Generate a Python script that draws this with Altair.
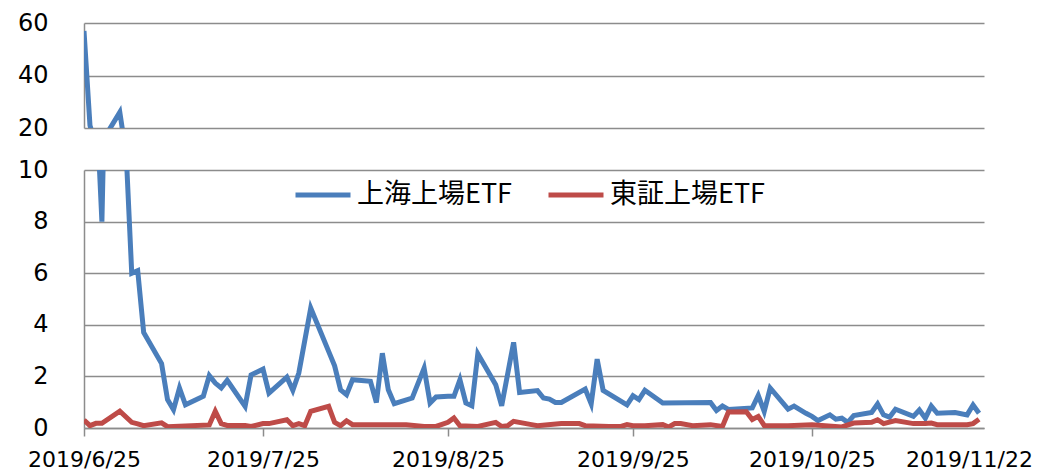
import altair as alt
import pandas as pd

# ---- data ----
sh_dates = [
    "2019/06/25", "2019/06/26", "2019/06/27", "2019/06/28", "2019/06/29", "2019/07/01",
    "2019/07/02", "2019/07/03", "2019/07/04", "2019/07/05", "2019/07/08", "2019/07/09",
    "2019/07/10", "2019/07/11", "2019/07/12", "2019/07/15", "2019/07/16", "2019/07/17",
    "2019/07/18", "2019/07/19", "2019/07/22", "2019/07/23", "2019/07/25", "2019/07/26",
    "2019/07/29", "2019/07/30", "2019/07/31", "2019/08/02", "2019/08/05", "2019/08/06",
    "2019/08/07", "2019/08/08", "2019/08/09", "2019/08/12", "2019/08/13", "2019/08/14",
    "2019/08/15", "2019/08/16", "2019/08/19", "2019/08/21", "2019/08/22", "2019/08/23",
    "2019/08/25", "2019/08/26", "2019/08/27", "2019/08/28", "2019/08/29", "2019/08/30",
    "2019/09/02", "2019/09/03", "2019/09/05", "2019/09/06", "2019/09/09", "2019/09/10",
    "2019/09/11", "2019/09/12", "2019/09/13", "2019/09/17", "2019/09/18", "2019/09/19",
    "2019/09/20", "2019/09/24", "2019/09/25", "2019/09/26", "2019/09/27", "2019/09/30",
    "2019/10/08", "2019/10/09", "2019/10/10", "2019/10/11", "2019/10/15", "2019/10/16",
    "2019/10/17", "2019/10/18", "2019/10/21", "2019/10/22", "2019/10/24", "2019/10/25",
    "2019/10/26", "2019/10/28", "2019/10/29", "2019/10/30", "2019/10/31", "2019/11/01",
    "2019/11/04", "2019/11/05", "2019/11/06", "2019/11/07", "2019/11/08", "2019/11/11",
    "2019/11/12", "2019/11/13", "2019/11/14", "2019/11/15", "2019/11/18", "2019/11/20",
    "2019/11/21", "2019/11/22",
]
sh_values = [
    57, 21, 13, 8, 18.5, 26,
    11, 6.0, 6.1, 3.7, 2.5, 1.1,
    0.71, 1.55, 0.9, 1.23, 2.03, 1.74,
    1.55, 1.85, 0.84, 2.06, 2.28, 1.35,
    1.97, 1.46, 2.13, 4.65, 2.97, 2.41,
    1.48, 1.29, 1.87, 1.81, 0.99, 2.90,
    1.48, 0.94, 1.16, 2.32, 0.97, 1.2,
    1.23, 1.23, 1.87, 0.97, 0.86, 2.88,
    1.68, 0.86, 3.32, 1.38, 1.45, 1.16,
    1.12, 0.99, 0.99, 1.51, 0.94, 2.67,
    1.46, 0.90, 1.25, 1.10, 1.46, 0.97,
    0.99, 0.68, 0.85, 0.72, 0.78, 1.26,
    0.64, 1.55, 0.73, 0.85, 0.57, 0.45,
    0.29, 0.51, 0.34, 0.38, 0.22, 0.48,
    0.60, 0.93, 0.51, 0.42, 0.73, 0.45,
    0.70, 0.38, 0.85, 0.57, 0.60, 0.51,
    0.89, 0.57,
]

ts_dates = [
    "2019/06/25", "2019/06/26", "2019/06/27", "2019/06/28", "2019/07/01", "2019/07/03",
    "2019/07/04", "2019/07/05", "2019/07/08", "2019/07/09", "2019/07/16", "2019/07/17",
    "2019/07/18", "2019/07/19", "2019/07/22", "2019/07/23", "2019/07/25", "2019/07/26",
    "2019/07/29", "2019/07/30", "2019/07/31", "2019/08/01", "2019/08/02", "2019/08/05",
    "2019/08/06", "2019/08/07", "2019/08/08", "2019/08/09", "2019/08/15", "2019/08/18",
    "2019/08/21", "2019/08/23", "2019/08/25", "2019/08/26", "2019/08/27", "2019/08/30",
    "2019/09/02", "2019/09/03", "2019/09/04", "2019/09/05", "2019/09/08", "2019/09/09",
    "2019/09/13", "2019/09/16", "2019/09/17", "2019/09/21", "2019/09/23", "2019/09/24",
    "2019/09/25", "2019/09/27", "2019/09/30", "2019/10/01", "2019/10/02", "2019/10/03",
    "2019/10/05", "2019/10/08", "2019/10/10", "2019/10/11", "2019/10/14", "2019/10/15",
    "2019/10/16", "2019/10/17", "2019/10/21", "2019/10/25", "2019/10/30", "2019/11/01",
    "2019/11/04", "2019/11/05", "2019/11/06", "2019/11/08", "2019/11/11", "2019/11/13",
    "2019/11/14", "2019/11/15", "2019/11/20", "2019/11/21", "2019/11/22",
]
ts_values = [
    0.31, 0.09, 0.18, 0.18, 0.65, 0.22,
    0.16, 0.09, 0.2, 0.05, 0.12, 0.65,
    0.17, 0.10, 0.10, 0.06, 0.17, 0.17,
    0.32, 0.09, 0.17, 0.09, 0.65, 0.84,
    0.22, 0.09, 0.28, 0.13, 0.13, 0.13,
    0.06, 0.06, 0.22, 0.39, 0.09, 0.06,
    0.22, 0.06, 0.09, 0.26, 0.13, 0.09,
    0.17, 0.17, 0.09, 0.06, 0.06, 0.13,
    0.09, 0.09, 0.13, 0.04, 0.17, 0.17,
    0.09, 0.13, 0.06, 0.62, 0.63, 0.33,
    0.45, 0.10, 0.09, 0.13, 0.04, 0.19,
    0.22, 0.32, 0.17, 0.29, 0.17, 0.17,
    0.19, 0.13, 0.13, 0.17, 0.34,
]

series_names = ["上海上場ETF", "東証上場ETF"]
series_colors = ["#4A7EBB", "#BE4B48"]
upper_ticks = [20, 40, 60]
lower_ticks = [0, 2, 4, 6, 8, 10]
x_tick_dates = ["2019/06/25", "2019/07/25", "2019/08/25", "2019/09/25", "2019/10/25", "2019/11/22"]

# ---- table ----
df = pd.concat([
    pd.DataFrame({"date": sh_dates, "value": sh_values, "series": series_names[0]}),
    pd.DataFrame({"date": ts_dates, "value": ts_values, "series": series_names[1]}),
])
df["date"] = pd.to_datetime(df["date"], format="%Y/%m/%d")


def dt(s, hours=0):
    y, m, d = (int(p) for p in s.split("/"))
    return alt.DateTime(year=y, month=m, date=d, hours=hours)


x_domain = [dt("2019/06/25"), dt("2019/11/22", hours=20)]
x_values = [dt(s) for s in x_tick_dates]

GRID = "#8C8C8C"
FONT = "DejaVu Sans"

y_axis_common = dict(
    title=None, grid=True, gridColor=GRID, gridWidth=1.5, tickSize=0,
    domain=True, domainColor=GRID, domainWidth=1.5,
    labelFont=FONT, labelFontSize=24, labelColor="black", labelPadding=36,
)

upper = alt.Chart(df).mark_line(clip=True, strokeWidth=5).encode(
    x=alt.X("date:T", scale=alt.Scale(domain=x_domain), axis=None),
    y=alt.Y("value:Q", scale=alt.Scale(domain=[20, 60]),
            axis=alt.Axis(values=upper_ticks, **y_axis_common)),
    color=alt.Color("series:N", scale=alt.Scale(domain=series_names, range=series_colors),
                    legend=None),
    order=alt.Order("date:T"),
).properties(width=900, height=105)

lower = alt.Chart(df).mark_line(clip=True, strokeWidth=5).encode(
    x=alt.X("date:T", scale=alt.Scale(domain=x_domain),
            axis=alt.Axis(
                values=x_values, format="%Y/%-m/%-d", title=None, grid=False,
                domain=True, domainColor=GRID, domainWidth=1.5,
                ticks=True, tickColor=GRID, tickWidth=1.5, tickSize=8,
                tickOpacity={"condition": {"test": "month(datum.value) == 10", "value": 0}, "value": 1},
                labelOffset={"condition": {"test": "month(datum.value) == 10", "value": -10}, "value": 0},
                labelFont=FONT, labelFontSize=22, labelColor="black", labelPadding=13,
                labelOverlap=False, labelFlush=False,
            )),
    y=alt.Y("value:Q", scale=alt.Scale(domain=[0, 10]),
            axis=alt.Axis(values=lower_ticks, **y_axis_common)),
    color=alt.Color("series:N", scale=alt.Scale(domain=series_names, range=series_colors),
                    legend=alt.Legend(
                        title=None, orient="none", legendX=209, legendY=-5,
                        direction="horizontal", symbolType="stroke", symbolStrokeWidth=5,
                        symbolSize=3025, labelFont="Noto Sans CJK JP", labelFontSize=27,
                        labelColor="black", labelOffset=4, columnPadding=26,
                    )),
    order=alt.Order("date:T"),
).properties(width=900, height=258)

chart = alt.vconcat(upper, lower, spacing=18).resolve_legend(color="independent").properties(
    padding={"left": 9, "top": 3, "right": 0, "bottom": 0}
).configure_view(stroke=None)

chart.save("out.html", embed_options={"renderer": "svg", "actions": False})
